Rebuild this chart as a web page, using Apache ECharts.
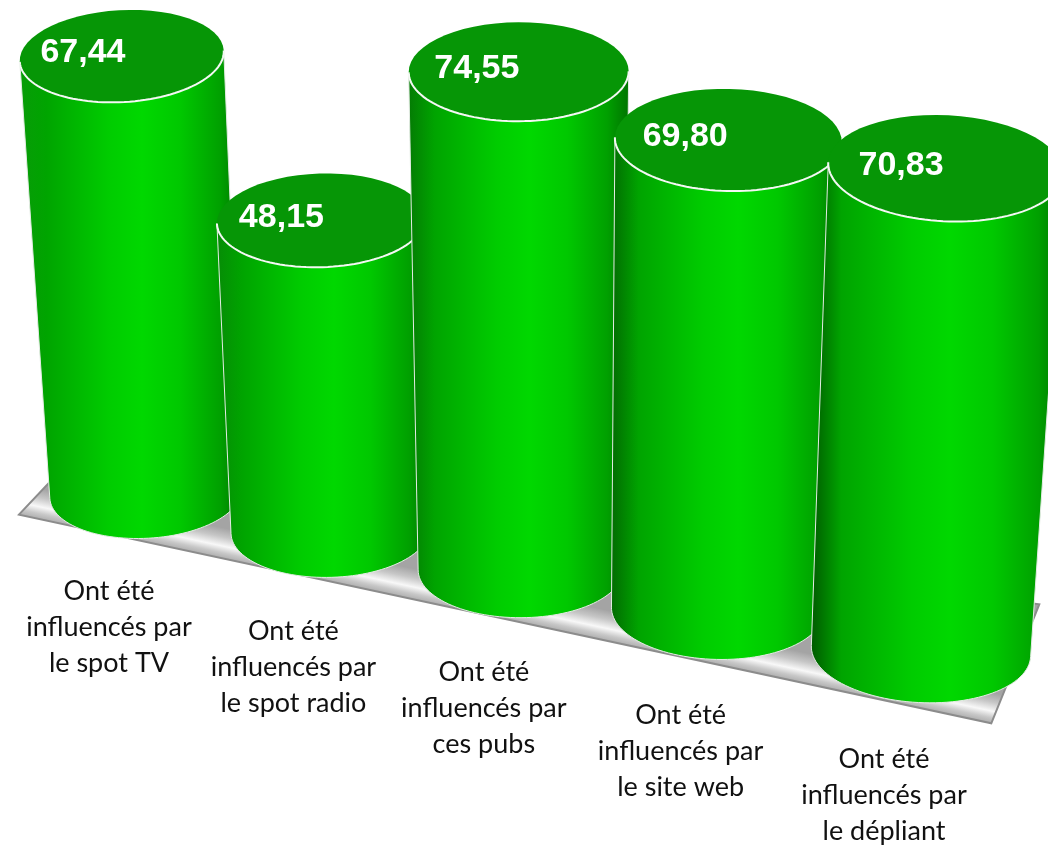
<!DOCTYPE html>
<html>
<head>
<meta charset="utf-8">
<style>
  html, body { margin: 0; padding: 0; background: #fff; }
  #chart { width: 1048px; height: 845px; }
</style>
<script src="https://cdn.jsdelivr.net/npm/echarts@6/dist/echarts.min.js"></script>
</head>
<body>
<div id="chart"></div>
<script>
var categories = [
  'Ont été\ninfluencés par\nle spot TV',
  'Ont été\ninfluencés par\nle spot radio',
  'Ont été\ninfluencés par\nces pubs',
  'Ont été\ninfluencés par\nle site web',
  'Ont été\ninfluencés par\nle dépliant'
];
var values = [67.44, 48.15, 74.55, 69.80, 70.83];

// where the axis corners land in the picture: (first, 0) (last, 0) (last, 100) (first, 100)
var viewCorners = [[146, 493], [921, 651], [957, -50], [109, -174]];

var chart = echarts.init(document.getElementById('chart'));

// plane transform from grid pixels to the tilted picture
function makeView(api) {
  var from = api.coord([0, 0]);
  var to = api.coord([categories.length - 1, 100]);
  var q = viewCorners;
  var dx1 = q[1][0] - q[2][0], dx2 = q[3][0] - q[2][0], dx3 = q[0][0] - q[1][0] + q[2][0] - q[3][0];
  var dy1 = q[1][1] - q[2][1], dy2 = q[3][1] - q[2][1], dy3 = q[0][1] - q[1][1] + q[2][1] - q[3][1];
  var det = dx1 * dy2 - dx2 * dy1;
  var g = (dx3 * dy2 - dx2 * dy3) / det;
  var h = (dx1 * dy3 - dx3 * dy1) / det;
  var a = q[1][0] - q[0][0] + g * q[1][0], b = q[3][0] - q[0][0] + h * q[3][0], c = q[0][0];
  var d = q[1][1] - q[0][1] + g * q[1][1], e = q[3][1] - q[0][1] + h * q[3][1], f = q[0][1];
  return function(x, y) {
    var s = (x - from[0]) / (to[0] - from[0]);
    var t = (y - from[1]) / (to[1] - from[1]);
    var w = g * s + h * t + 1;
    return [(a * s + b * t + c) / w, (d * s + e * t + f) / w];
  };
}

function ellipsePoints(c, rx, ry, tilt, start, end) {
  var pts = [];
  var cos = Math.cos(tilt), sin = Math.sin(tilt);
  for (var k = 0; k <= 60; k++) {
    var t = start + (end - start) * k / 60;
    var ex = rx * Math.cos(t), ey = ry * Math.sin(t);
    pts.push([c[0] + ex * cos - ey * sin, c[1] + ex * sin + ey * cos]);
  }
  return pts;
}

function renderFloor(params, api) {
  var view = makeView(api);
  var band = api.size([1, 0])[0];
  var first = api.coord([0, 0]);
  var last = api.coord([categories.length - 1, 0]);
  var p0 = view(first[0] - band / 2, first[1]);
  var p1 = view(last[0] + band / 2, last[1]);
  var front0 = [p0[0] - 37, p0[1] + 40];
  var front1 = [p1[0] - 34, p1[1] + 51];
  var pts = [
    [p0[0] - 2, p0[1] + 3],
    [p1[0] + 14, p1[1] - 68],
    front1,
    front0
  ];
  // shading runs inwards from the front edge, so the gaps between cylinders catch the light
  var nx = front1[1] - front0[1], ny = front1[0] - front0[0];
  var len = Math.sqrt(nx * nx + ny * ny);
  var mid = [(front0[0] + front1[0]) / 2, (front0[1] + front1[1]) / 2];
  return {
    type: 'polygon',
    shape: { points: pts },
    style: {
      fill: new echarts.graphic.LinearGradient(
        mid[0], mid[1], mid[0] + nx / len * 30, mid[1] - ny / len * 30, [
          { offset: 0, color: '#aeaeae' },
          { offset: 0.18, color: '#c8c8c8' },
          { offset: 0.4, color: '#f8f8f8' },
          { offset: 0.7, color: '#c6c6c6' },
          { offset: 1, color: '#a4a4a4' }
        ], true),
      stroke: '#8c8c8c',
      lineWidth: 2
    }
  };
}

function renderCylinder(params, api) {
  var i = api.value(0);
  var v = api.value(1);
  var view = makeView(api);
  var band = api.size([1, 0])[0];
  var baseAt = api.coord([i, 0]);
  var topAt = api.coord([i, v]);
  var base = view(baseAt[0], baseAt[1]);
  var top = view(topAt[0], topAt[1]);
  var tilt = Math.atan2(top[0] - base[0], base[1] - top[1]);

  var a = view(topAt[0] - band / 2, topAt[1]), b = view(topAt[0] + band / 2, topAt[1]);
  var topW = Math.sqrt((b[0] - a[0]) * (b[0] - a[0]) + (b[1] - a[1]) * (b[1] - a[1]));
  a = view(baseAt[0] - band / 2, baseAt[1]); b = view(baseAt[0] + band / 2, baseAt[1]);
  var baseW = Math.sqrt((b[0] - a[0]) * (b[0] - a[0]) + (b[1] - a[1]) * (b[1] - a[1]));

  var topRx = topW * 0.525, topRy = topRx * 0.45;
  var baseRx = baseW * 0.52, baseRy = baseRx * 0.47;

  var side = ellipsePoints(base, baseRx, baseRy, tilt, Math.PI, 0);
  side.unshift(ellipsePoints(top, topRx, topRy, tilt, Math.PI, Math.PI)[0]);
  side.push(ellipsePoints(top, topRx, topRy, tilt, 0, 0)[0]);

  var leftEdge = echarts.color.lerp(i / (categories.length - 1), ['#089c08', '#005a00']);

  return {
    type: 'group',
    children: [{
      type: 'polygon',
      shape: { points: side },
      style: {
        fill: new echarts.graphic.LinearGradient(0, 0, 1, 0, [
          { offset: 0, color: leftEdge },
          { offset: 0.12, color: '#00a400' },
          { offset: 0.4, color: '#00cc00' },
          { offset: 0.55, color: '#00d800' },
          { offset: 0.72, color: '#00c800' },
          { offset: 0.9, color: '#00a000' },
          { offset: 1, color: '#007400' }
        ]),
        stroke: '#e4ece4',
        lineWidth: 1
      }
    }, {
      type: 'polygon',
      shape: { points: ellipsePoints(top, topRx, topRy, tilt, 0, Math.PI * 2) },
      style: { fill: '#069606' }
    }, {
      type: 'polyline',
      shape: { points: ellipsePoints(top, topRx, topRy, tilt, 0, Math.PI) },
      style: { fill: null, stroke: '#f4f8f4', lineWidth: 2 }
    }, {
      type: 'text',
      style: {
        x: top[0] - topRx * 0.38,
        y: top[1] - 3,
        text: v.toFixed(2).replace('.', ','),
        fill: '#fff',
        font: 'bold 34px "Liberation Sans", Arial, sans-serif',
        textAlign: 'center',
        textVerticalAlign: 'middle'
      }
    }, {
      type: 'text',
      style: {
        x: base[0] - 37,
        y: base[1] + 134 + 2.5 * i,
        text: categories[i],
        fill: '#111',
        font: '27px Lato, "Noto Sans", sans-serif',
        lineHeight: 36,
        textAlign: 'center',
        textVerticalAlign: 'middle'
      }
    }]
  };
}

chart.setOption({
  animation: false,
  backgroundColor: '#fff',
  grid: { left: 0, right: 0, top: 0, bottom: 0 },
  xAxis: { type: 'category', data: categories, show: false },
  yAxis: { type: 'value', min: 0, max: 100, show: false },
  series: [{
    type: 'custom',
    renderItem: renderFloor,
    data: [[0, 0]],
    z: 1
  }, {
    type: 'custom',
    renderItem: renderCylinder,
    encode: { x: 0, y: 1 },
    data: values.map(function(val, i) {
      return [i, val];
    }),
    z: 2
  }]
});
</script>
</body>
</html>
